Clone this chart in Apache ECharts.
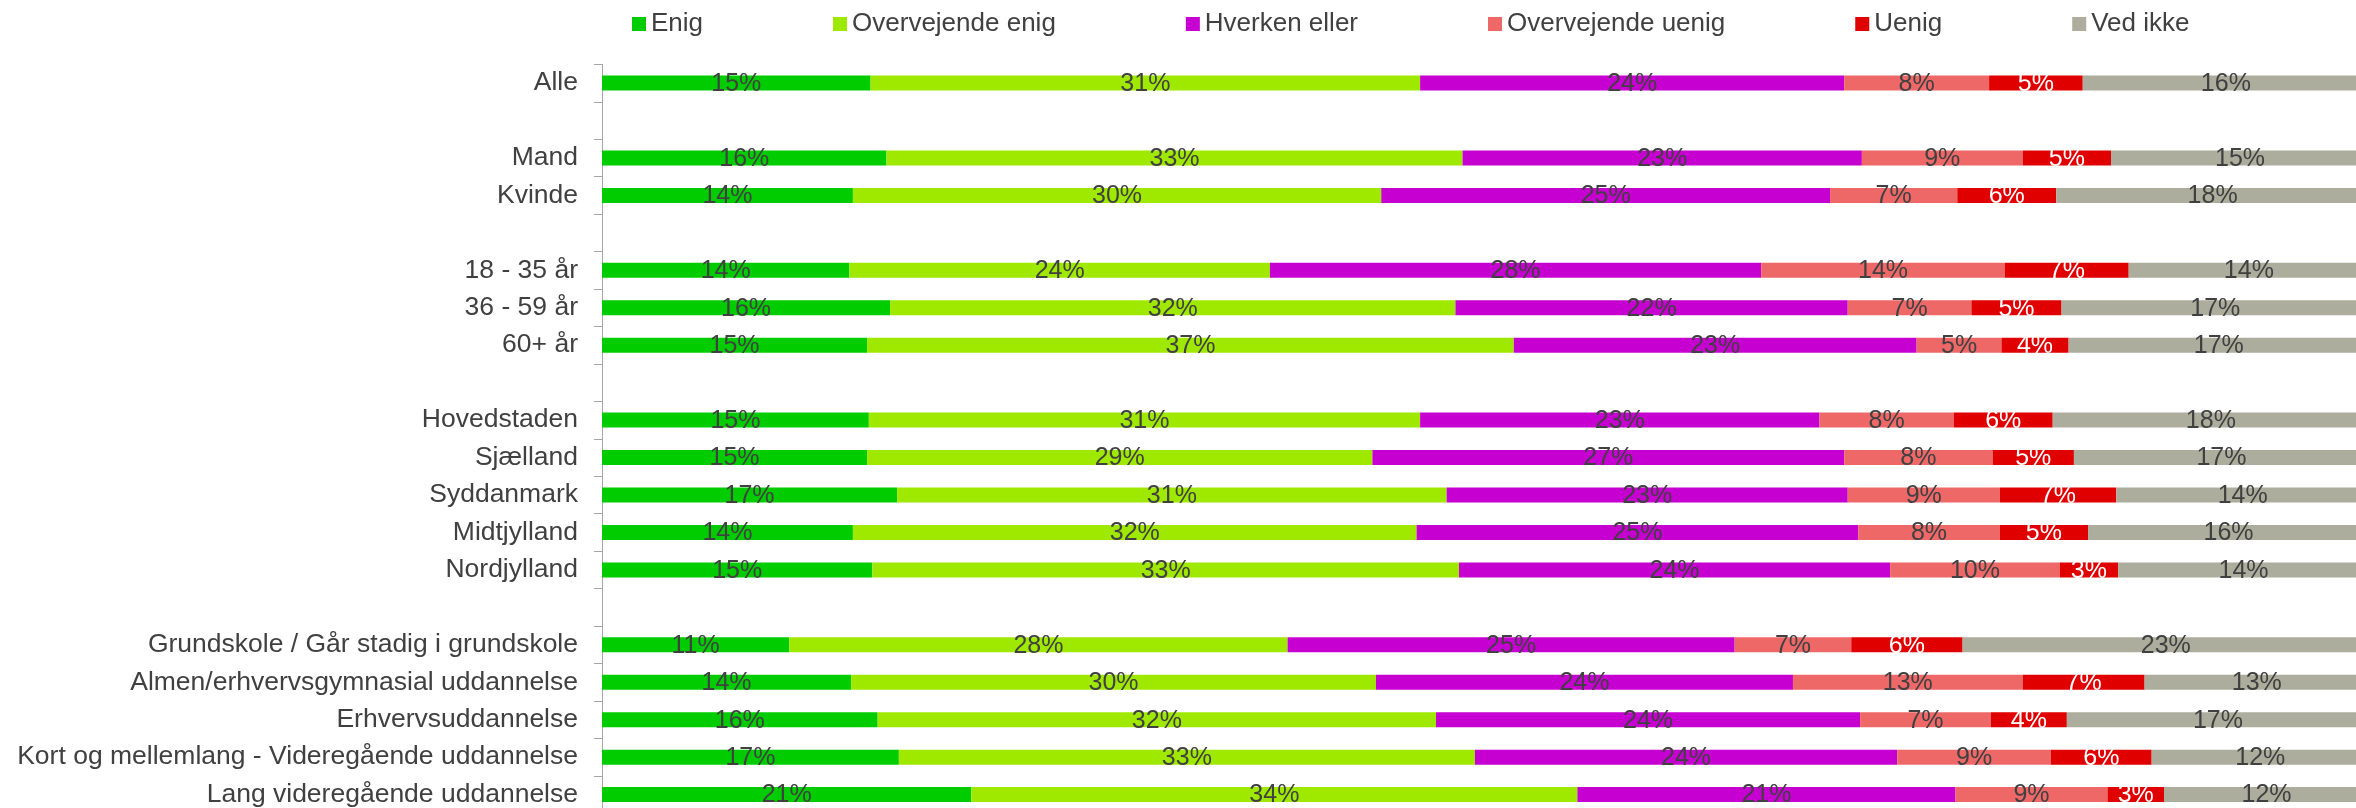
<!DOCTYPE html>
<html>
<head>
<meta charset="utf-8">
<script src="https://cdn.jsdelivr.net/npm/echarts@6/dist/echarts.min.js"></script>
<style>
  html, body { margin: 0; padding: 0; background: #ffffff; }
  #chart { width: 2356px; height: 808px; }
</style>
</head>
<body>
<div id="chart"></div>
<script>
// Categories (blank strings are spacer rows)
const categories = [
  'Alle', ' ',
  'Mand', 'Kvinde', '  ',
  '18 - 35 år', '36 - 59 år', '60+ år', '   ',
  'Hovedstaden', 'Sjælland', 'Syddanmark', 'Midtjylland', 'Nordjylland', '    ',
  'Grundskole / Går stadig i grundskole', 'Almen/erhvervsgymnasial uddannelse',
  'Erhvervsuddannelse', 'Kort og mellemlang - Videregående uddannelse', 'Lang videregående uddannelse'
];

const seriesNames = ['Enig', 'Overvejende enig', 'Hverken eller', 'Overvejende uenig', 'Uenig', 'Ved ikke'];

// Values in percent, one entry per category row (null = spacer row)
const enig            = [15.2, null, 16.1, 14.2, null, 14.0, 16.3, 15.0, null, 15.1, 15.0, 16.7, 14.2, 15.3, null, 10.6, 14.1, 15.6, 16.8, 20.9];
const overvejendeEnig = [31.1, null, 32.6, 29.9, null, 23.8, 32.0, 36.6, null, 31.2, 28.6, 31.1, 31.9, 33.2, null, 28.2, 29.7, 31.6, 32.6, 34.3];
const hverkenEller    = [24.0, null, 22.6, 25.4, null, 27.8, 22.2, 22.8, null, 22.6, 26.7, 22.7, 25.0, 24.4, null, 25.3, 23.6, 24.0, 23.9, 21.4];
const overvejendeUenig= [8.2,  null, 9.1,  7.2,  null, 13.8, 7.0,  4.8,  null, 7.6,  8.4,  8.6,  8.0,  9.6,  null, 6.6,  13.0, 7.4,  8.7,  8.6];
const uenig           = [5.3,  null, 5.0,  5.6,  null, 7.0,  5.1,  3.8,  null, 5.6,  4.6,  6.6,  5.0,  3.3,  null, 6.3,  6.9,  4.3,  5.7,  3.2];
const vedIkke         = [16.2, null, 14.6, 17.7, null, 13.6, 17.4, 17.0, null, 17.9, 16.7, 14.3, 15.9, 14.2, null, 23.0, 12.7, 17.1, 12.3, 11.6];

const seriesData = [enig, overvejendeEnig, hverkenEller, overvejendeUenig, uenig, vedIkke];
const colors = ['#00CC00', '#9FE800', '#C600D0', '#EE6868', '#E00000', '#ADAD9D'];
const labelColors = ['#404040', '#404040', '#404040', '#404040', '#FFFFFF', '#404040'];

const FONT = '"Liberation Sans", Arial, sans-serif';

const chart = echarts.init(document.getElementById('chart'), null, { renderer: 'canvas' });

const series = seriesNames.map((name, i) => ({
  name: name,
  type: 'bar',
  stack: 'total',
  barWidth: 15,
  data: seriesData[i],
  itemStyle: { color: colors[i] },
  label: {
    show: true,
    position: 'inside',
    offset: [0, 1],
    fontFamily: FONT,
    fontSize: 25,
    color: labelColors[i],
    formatter: p => (p.value == null ? '' : Math.round(p.value) + '%')
  },
  emphasis: { disabled: true }
}));

chart.setOption({
  animation: false,
  backgroundColor: '#ffffff',
  color: colors,
  legend: {
    data: seriesNames,
    left: 632,
    top: 9,
    padding: 0,
    itemGap: 130,
    itemWidth: 14,
    itemHeight: 14,
    icon: 'rect',
    textStyle: { fontFamily: FONT, fontSize: 26, color: '#404040', lineHeight: 30 }
  },
  grid: {
    left: 602,
    top: 64.3,
    width: 1767,
    height: 749,
    containLabel: false,
    outerBoundsMode: 'none'
  },
  xAxis: {
    type: 'value',
    min: 0,
    max: 100,
    show: false,
    splitLine: { show: false }
  },
  yAxis: {
    type: 'category',
    data: categories,
    inverse: true,
    axisLine: { show: true, lineStyle: { color: '#A6A6A6', width: 1 } },
    axisTick: { show: true, length: 8, lineStyle: { color: '#A6A6A6', width: 1 } },
    axisLabel: { fontFamily: FONT, fontSize: 26.5, color: '#404040', margin: 24 }
  },
  series: series
});
</script>
</body>
</html>
